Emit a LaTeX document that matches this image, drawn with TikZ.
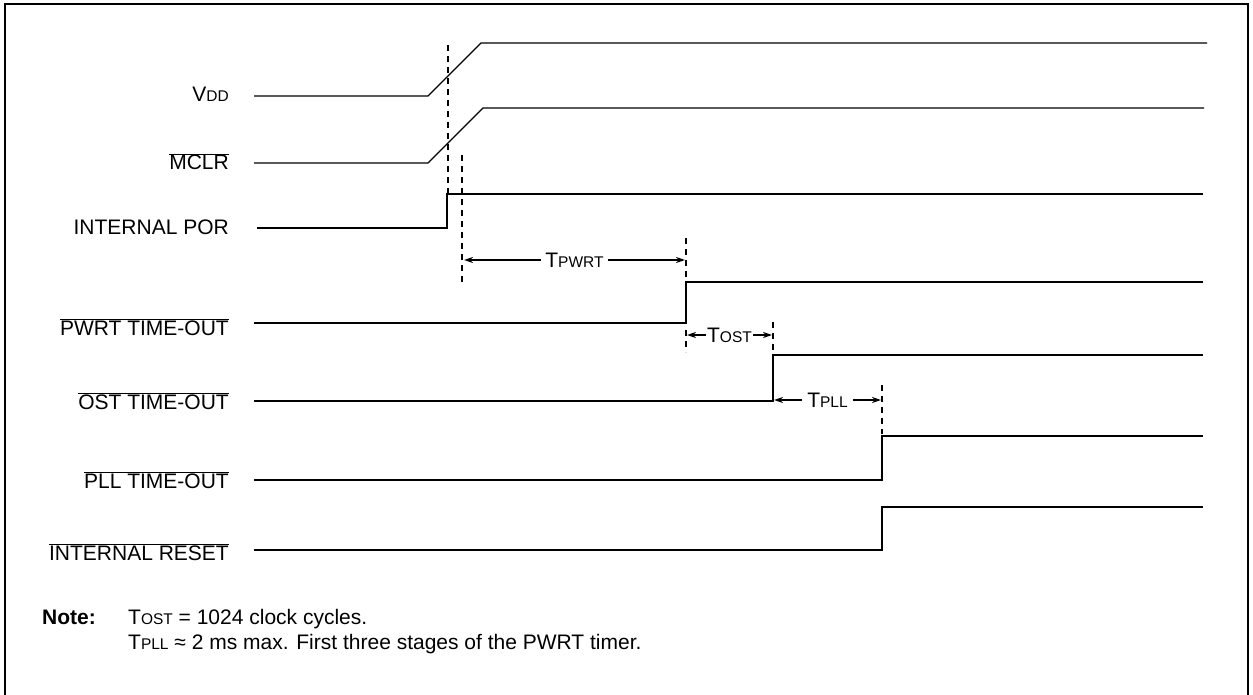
\documentclass[tikz,border=0pt]{standalone}
\usepackage{fontspec}
\setmainfont{Liberation Sans}
\usetikzlibrary{arrows.meta,positioning}

\newcommand{\lbl}{\fontsize{21}{24}\selectfont}
\newcommand{\sml}[1]{{\fontsize{15.5}{15.5}\selectfont #1}}

\begin{document}
\begin{tikzpicture}[x=1pt,y=-1pt,
  sig/.style={line width=2pt},
  thinsig/.style={line width=1.3pt},
  guide/.style={line width=1.8pt, dash pattern=on 6pt off 5pt},
  span/.style={line width=1.5pt, {Stealth[length=9pt,width=6pt]}-{Stealth[length=9pt,width=6pt]}},
  lab/.style={anchor=base east, font=\lbl, inner sep=0pt}]

\useasboundingbox (0,0) rectangle (1253,695);
\draw[line width=2.2pt] (5,700) -- (5,4) -- (1248,4) -- (1248,700);

% signal names
\node[lab] (vdd) at (229,102) {V\sml{DD}};
\node[lab] (mclr) at (229,170) {$\overline{\hbox{MCLR}}$};
\node[lab] (por) at (229,235) {INTERNAL POR};
\node[lab] (pwrt) at (229,335) {$\overline{\hbox{PWRT TIME-OUT}}$};
\node[lab] (ost) at (229,409) {$\overline{\hbox{OST TIME-OUT}}$};
\node[lab] (pll) at (229,488) {$\overline{\hbox{PLL TIME-OUT}}$};
\node[lab] (rst) at (229,560) {$\overline{\hbox{INTERNAL RESET}}$};

% waveforms
\draw[thinsig] (254,96) -- (428,96) -- (481,43) -- (1207,43);
\draw[thinsig] (254,163) -- (428,163) -- (483,108) -- (1204,108);
\draw[sig] (257,228) -- (447,228) -- (447,194) -- (1203,194);
\draw[sig] (254,323) -- (686,323) -- (686,282) -- (1203,282);
\draw[sig] (254,401) -- (773,401) -- (773,355) -- (1203,355);
\draw[sig] (254,480) -- (882,480) -- (882,436) -- (1203,436);
\draw[sig] (254,550) -- (882,550) -- (882,507) -- (1203,507);

% timing marks
\draw[guide] (448,45) -- (448,196);
\draw[guide] (462,155) -- (462,285);
\draw[guide] (686,238) -- (686,282);
\draw[guide] (686,330) -- (686,352);
\draw[guide] (773,322) -- (773,352);
\draw[guide] (882,385) -- (882,434);

\draw[span] (464,260) -- node[fill=white, font=\lbl, inner xsep=4pt, inner ysep=1pt] (tpwrt) {T\sml{PWRT}} (685,260);
\draw[span] (687,335) -- node[fill=white, font=\lbl, inner xsep=1pt, inner ysep=1pt] (tost) {T\sml{OST}} (772,335);
\draw[span] (774,400) -- node[fill=white, font=\lbl, inner xsep=5pt, inner ysep=1pt] (tpll) {T\sml{PLL}} (881,400);

% note
\node[font=\lbl\bfseries, anchor=base west, inner sep=0pt] (note) at (42,624) {Note:};
\node[font=\lbl, anchor=base west, inner sep=0pt] (note1) at (128,624) {T\sml{OST} = 1024 clock cycles.};
\node[font=\lbl, anchor=base west, inner sep=0pt] (note2) at (128,649) {T\sml{PLL} ≈ 2 ms max. First three stages of the PWRT timer.};
\end{tikzpicture}
\end{document}
